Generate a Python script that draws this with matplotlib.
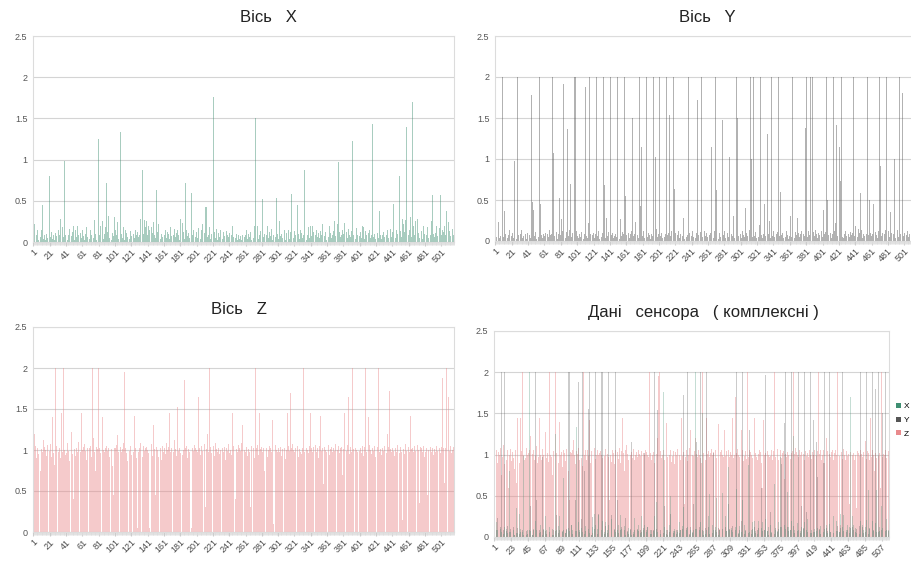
import numpy as np
import matplotlib
matplotlib.use("Agg")
import matplotlib.pyplot as plt
from matplotlib.patches import Patch

plt.rcParams['font.family'] = ['Liberation Sans', 'DejaVu Sans']

# ---------------- data ----------------
axis_x = [
    0.12, 0.22, 0.05, 0.18, 0.08, 0.15, 0.03, 0.17, 0.1, 0.06, 0.14, 0.45, 0.04, 0.12, 0.08, 0.02, 0.1, 0.05, 0.15, 0.07,
    0.8, 0.06, 0.12, 0.04, 0.16, 0.09, 0.03, 0.11, 0.07, 0.35, 0.05, 0.14, 0.08, 0.28, 0.1, 0.04, 0.18, 0.06, 0.98, 0.09,
    0.05, 0.13, 0.02, 0.08, 0.16, 0.04, 2.0, 0.07, 0.12, 0.19, 0.03, 0.1, 0.15, 0.06, 0.2, 0.08, 0.04, 0.17, 0.11, 0.05,
    0.14, 0.07, 0.22, 0.03, 0.1, 0.18, 0.06, 0.25, 0.09, 0.04, 0.15, 0.08, 0.12, 0.56, 0.05, 0.27, 0.1, 0.03, 0.16, 0.07,
    1.25, 0.08, 0.2, 0.05, 0.13, 0.26, 0.04, 0.1, 0.18, 0.07, 0.72, 0.12, 0.31, 0.05, 0.09, 0.16, 0.03, 0.11, 0.07, 0.3,
    0.06, 0.14, 0.09, 0.24, 0.04, 0.12, 0.07, 1.33, 0.1, 0.05, 0.18, 0.08, 0.03, 0.15, 0.11, 0.06, 1.22, 0.09, 0.04, 0.13,
    0.07, 0.16, 0.03, 0.1, 0.05, 0.14, 0.08, 0.02, 0.12, 0.06, 0.09, 0.28, 0.15, 0.22, 0.87, 0.1, 0.27, 0.18, 0.12, 0.25,
    0.09, 0.2, 0.14, 0.58, 0.06, 0.18, 0.11, 0.24, 0.08, 0.15, 0.05, 0.63, 0.12, 0.22, 0.07, 0.13, 0.04, 0.1, 0.06, 0.09,
    1.62, 0.08, 0.15, 0.05, 0.12, 0.27, 0.1, 0.04, 0.18, 0.07, 0.13, 0.03, 0.09, 0.16, 0.06, 0.11, 0.05, 0.14, 0.08, 0.02,
    0.28, 0.1, 0.06, 0.23, 0.12, 0.04, 0.72, 0.09, 0.15, 0.07, 0.11, 0.05, 0.25, 0.13, 0.6, 0.08, 0.14, 0.03, 0.1, 0.06,
    0.12, 0.05, 0.17, 0.52, 0.09, 0.04, 0.14, 0.22, 0.07, 0.25, 0.11, 0.42, 0.43, 0.06, 0.13, 0.08, 0.18, 0.04, 0.1, 0.15,
    0.07, 1.76, 0.12, 0.05, 0.16, 0.09, 0.03, 0.11, 0.06, 0.14, 0.5, 0.08, 0.04, 0.12, 0.07, 0.1, 0.05, 0.13, 0.09, 0.06,
    0.11, 0.04, 0.18, 0.08, 0.2, 0.06, 0.13, 0.37, 0.05, 0.1, 0.03, 0.08, 0.12, 0.04, 0.07, 0.02, 0.09, 0.05, 0.11, 0.06,
    0.08, 0.14, 0.04, 2.0, 0.1, 0.06, 0.12, 0.03, 0.09, 0.18, 0.05, 0.2, 1.5, 0.07, 0.11, 0.19, 0.04, 0.08, 0.13, 0.05,
    0.25, 0.52, 0.06, 0.1, 0.04, 0.14, 0.08, 0.2, 0.05, 0.12, 0.47, 0.07, 0.16, 0.03, 0.09, 0.13, 0.28, 0.06, 0.54, 0.1,
    0.04, 0.12, 0.25, 0.07, 0.1, 0.05, 0.85, 0.08, 0.14, 0.03, 0.11, 0.06, 0.09, 0.15, 0.04, 0.12, 0.58, 0.07, 0.1, 0.05,
    0.13, 0.08, 0.3, 0.06, 0.45, 0.1, 0.04, 0.14, 0.07, 0.11, 0.05, 0.09, 0.87, 0.06, 0.12, 0.03, 0.08, 0.18, 0.05, 0.1,
    0.2, 0.07, 0.19, 0.12, 0.04, 0.2, 0.09, 0.15, 0.06, 0.11, 0.18, 0.05, 0.13, 0.08, 0.22, 0.04, 0.1, 0.07, 0.12, 0.03,
    0.09, 0.14, 0.06, 0.2, 0.11, 0.05, 0.64, 0.08, 0.13, 0.25, 0.07, 0.18, 0.1, 0.22, 0.97, 0.12, 0.06, 0.2, 0.09, 0.15,
    0.1, 0.23, 0.07, 0.55, 0.12, 0.05, 0.16, 0.09, 0.2, 0.06, 0.13, 1.22, 0.08, 0.25, 0.11, 0.04, 0.17, 0.09, 0.14, 0.44,
    0.07, 0.12, 0.05, 0.2, 0.1, 0.18, 0.04, 0.13, 0.08, 0.22, 0.06, 0.11, 0.15, 0.05, 0.09, 0.12, 1.43, 0.06, 0.1, 0.04,
    0.14, 0.07, 0.11, 0.05, 0.38, 0.09, 0.13, 0.04, 0.08, 0.12, 0.06, 0.1, 0.03, 0.09, 0.14, 0.05, 0.11, 0.07, 0.16, 0.06,
    0.12, 0.46, 0.08, 0.25, 0.05, 0.14, 0.1, 0.2, 0.07, 0.8, 0.13, 0.06, 0.28, 0.09, 0.22, 0.12, 0.27, 1.4, 0.1, 0.18,
    0.08, 0.15, 0.3, 0.06, 0.12, 1.7, 0.2, 0.09, 0.25, 0.14, 0.07, 0.28, 0.11, 0.05, 0.16, 0.09, 0.13, 0.04, 0.2, 0.1,
    0.06, 0.14, 0.09, 0.18, 0.05, 0.12, 0.21, 0.08, 0.26, 0.57, 0.1, 0.15, 0.06, 0.11, 0.19, 0.07, 0.13, 0.05, 0.17, 0.57,
    0.09, 0.14, 0.06, 0.12, 0.2, 0.08, 0.38, 0.11, 0.05, 0.24, 0.13, 0.07, 0.22, 0.1, 0.16, 0.08,
]

axis_y = [
    1.5, 0.05, 0.03, 0.08, 0.23, 0.04, 0.06, 0.15, 0.12, 2.0, 0.05, 0.36, 0.08, 2.0, 0.1, 0.04, 0.07, 0.13, 1.8, 0.67,
    0.06, 0.1, 0.04, 0.98, 0.08, 0.12, 0.03, 2.0, 0.07, 0.05, 0.11, 0.09, 0.14, 0.04, 0.06, 2.0, 0.62, 0.08, 0.03, 0.1,
    0.05, 0.12, 0.07, 0.04, 1.78, 0.47, 0.09, 0.38, 0.06, 0.11, 0.03, 0.08, 0.1, 0.05, 2.0, 0.45, 0.07, 0.12, 0.04, 0.09,
    0.06, 0.1, 0.03, 0.97, 0.08, 0.05, 0.14, 0.07, 0.04, 0.09, 2.0, 1.07, 0.06, 0.25, 0.05, 0.11, 0.03, 0.08, 0.52, 1.97,
    0.07, 0.27, 0.12, 1.92, 0.05, 0.09, 0.04, 0.11, 1.36, 0.06, 0.08, 0.13, 0.7, 0.05, 0.1, 0.04, 0.07, 2.0, 2.0, 0.12,
    0.06, 0.14, 0.04, 0.09, 0.05, 0.11, 0.45, 0.07, 0.03, 0.08, 1.88, 0.06, 0.12, 0.04, 0.22, 2.0, 0.09, 0.05, 0.8, 0.07,
    0.1, 0.04, 0.08, 1.55, 2.0, 0.06, 0.12, 0.03, 0.24, 0.07, 0.05, 0.1, 2.0, 0.68, 0.08, 0.04, 0.28, 0.06, 0.11, 0.05,
    2.0, 2.0, 0.07, 0.1, 0.04, 0.13, 0.06, 0.09, 0.05, 2.0, 1.28, 0.08, 0.03, 0.27, 0.06, 0.11, 0.04, 0.09, 2.0, 0.55,
    0.07, 0.45, 0.05, 0.1, 0.04, 0.08, 0.12, 2.0, 1.5, 0.06, 0.09, 0.23, 0.05, 0.11, 0.07, 0.04, 2.0, 0.43, 0.1, 1.15,
    0.06, 0.12, 0.04, 0.09, 1.68, 2.0, 0.05, 0.1, 0.07, 0.13, 0.03, 0.08, 0.06, 2.0, 0.7, 0.11, 1.02, 0.15, 0.05, 0.09,
    0.12, 2.0, 0.06, 0.1, 0.04, 0.08, 0.11, 0.05, 0.09, 2.0, 0.07, 0.35, 0.1, 1.54, 0.06, 0.12, 0.04, 0.08, 2.0, 0.63,
    0.1, 0.05, 0.38, 0.07, 0.12, 0.04, 0.09, 2.0, 0.5, 0.06, 0.28, 0.03, 0.08, 0.11, 0.05, 0.07, 2.0, 0.1, 0.04, 0.09,
    0.06, 0.12, 0.05, 0.08, 2.0, 0.04, 0.1, 1.72, 0.07, 0.03, 0.09, 0.11, 2.0, 0.05, 0.08, 0.04, 0.12, 0.06, 0.1, 0.05,
    0.4, 1.35, 0.07, 0.1, 1.15, 0.05, 0.09, 0.04, 0.12, 2.0, 0.62, 0.06, 0.08, 0.03, 0.1, 0.05, 0.11, 2.0, 1.48, 0.07,
    0.12, 0.04, 0.4, 0.08, 0.1, 0.05, 1.02, 0.07, 0.03, 0.09, 0.06, 0.3, 0.04, 0.11, 0.08, 2.0, 1.5, 0.06, 0.1, 0.05,
    0.09, 0.04, 0.12, 0.07, 2.0, 0.05, 0.4, 0.1, 0.06, 0.42, 0.08, 0.13, 2.0, 1.0, 0.05, 0.09, 2.0, 0.06, 0.11, 0.04,
    0.08, 0.12, 0.05, 0.19, 2.0, 0.07, 0.1, 0.04, 0.09, 0.45, 0.06, 0.11, 0.05, 1.3, 0.08, 0.24, 0.04, 0.1, 2.0, 0.06,
    0.12, 0.05, 0.09, 0.04, 0.08, 0.11, 2.0, 0.06, 0.82, 0.6, 0.07, 0.1, 0.04, 0.09, 1.97, 0.05, 0.12, 0.07, 0.03, 0.1,
    0.06, 0.3, 0.05, 2.0, 0.08, 0.32, 0.04, 0.11, 0.07, 0.28, 0.06, 0.1, 0.05, 0.09, 0.12, 0.88, 0.04, 0.08, 0.06, 1.38,
    2.0, 0.1, 0.05, 0.12, 0.07, 2.0, 0.04, 0.09, 2.0, 0.11, 0.06, 0.13, 0.05, 0.08, 0.04, 0.1, 0.07, 2.0, 0.06, 0.12,
    0.05, 0.38, 0.09, 0.04, 0.11, 2.0, 0.5, 0.07, 0.3, 0.06, 0.1, 0.04, 0.08, 2.0, 0.05, 0.12, 0.22, 1.42, 0.06, 0.09,
    0.07, 1.15, 0.73, 2.0, 0.05, 0.1, 0.04, 0.08, 0.12, 0.06, 0.9, 2.0, 0.09, 0.05, 0.11, 0.07, 0.04, 0.1, 2.0, 0.06,
    0.18, 0.08, 0.12, 0.05, 0.15, 0.1, 0.58, 0.07, 0.13, 0.04, 0.09, 0.06, 0.11, 0.05, 0.08, 2.0, 0.07, 0.5, 0.04, 0.1,
    0.06, 0.09, 0.45, 1.15, 0.05, 0.11, 0.07, 0.04, 0.12, 0.08, 2.0, 0.92, 0.06, 0.1, 0.05, 0.65, 0.09, 0.13, 2.0, 1.17,
    0.07, 0.12, 0.05, 0.35, 0.1, 0.06, 2.0, 0.09, 1.0, 0.04, 0.11, 0.07, 0.13, 0.05, 2.0, 0.08, 0.95, 0.12, 1.8, 0.06,
    0.1, 0.15, 2.0, 0.07, 0.12, 0.05, 0.09, 1.5, 0.06, 0.11, 0.04, 2.0, 0.08, 0.1, 0.05, 0.07,
]

axis_z = [
    1.02, 1.2, 0.98, 1.05, 0.9, 1.03, 0.95, 1.0, 1.08, 0.75, 1.01, 0.97, 1.12, 0.88, 1.04, 1.0, 0.93, 1.06, 0.6, 1.02,
    0.99, 1.07, 0.92, 1.4, 1.03, 0.96, 0.82, 2.0, 1.05, 0.65, 1.45, 0.98, 1.02, 0.9, 1.45, 1.04, 0.97, 2.0, 1.0, 0.94,
    1.03, 0.96, 1.08, 0.99, 0.87, 1.02, 1.05, 1.22, 0.95, 0.4, 1.01, 1.06, 0.93, 1.03, 0.98, 1.1, 0.9, 1.02, 0.97, 1.45,
    1.0, 1.04, 0.94, 1.07, 0.99, 0.88, 1.03, 1.27, 0.96, 1.02, 1.05, 0.91, 2.0, 1.0, 1.15, 0.97, 0.75, 1.04, 0.93, 1.01,
    2.0, 1.02, 0.96, 1.06, 0.9, 1.4, 1.0, 0.98, 1.03, 0.85, 1.05, 0.99, 1.02, 0.92, 1.07, 0.97, 1.01, 0.8, 0.45, 1.03,
    0.95, 1.02, 1.06, 1.18, 0.98, 1.0, 0.89, 1.04, 0.97, 1.01, 1.08, 0.93, 1.95, 1.02, 0.96, 0.86, 2.0, 1.03, 0.99, 1.05,
    0.94, 1.01, 1.06, 0.98, 1.42, 1.02, 0.9, 1.04, 0.05, 0.97, 1.03, 1.08, 0.95, 1.0, 0.92, 1.05, 0.99, 1.02, 0.87, 1.04,
    1.0, 0.96, 0.05, 1.03, 0.98, 1.07, 0.93, 1.3, 1.01, 0.97, 0.45, 1.04, 1.0, 0.91, 1.06, 0.99, 1.02, 0.88, 1.05, 0.97,
    2.0, 1.03, 0.95, 1.08, 1.0, 0.9, 1.04, 1.45, 0.98, 1.02, 0.8, 1.06, 0.97, 1.12, 1.01, 0.93, 1.05, 1.53, 0.99, 1.03,
    0.96, 1.02, 1.07, 0.94, 1.0, 1.85, 1.03, 0.97, 1.05, 0.9, 1.01, 0.98, 1.04, 0.92, 0.05, 1.02, 0.99, 1.06, 0.95, 1.03,
    1.0, 0.97, 1.65, 2.0, 1.02, 0.94, 1.05, 0.99, 1.03, 0.9, 1.07, 0.3, 1.01, 1.2, 1.95, 0.98, 2.0, 1.04, 0.96, 1.02,
    0.99, 1.05, 0.93, 1.08, 1.01, 1.38, 0.97, 1.03, 0.95, 1.0, 1.06, 0.91, 1.02, 0.98, 1.04, 0.88, 0.45, 1.03, 0.99, 1.07,
    0.96, 1.02, 1.0, 0.94, 1.45, 1.05, 0.98, 1.03, 0.4, 1.01, 0.97, 1.06, 0.92, 1.02, 0.99, 1.08, 1.3, 0.95, 1.03, 1.0,
    0.98, 1.04, 0.93, 1.2, 1.01, 0.97, 0.3, 1.05, 1.0, 0.96, 1.03, 0.9, 2.0, 1.02, 0.98, 1.06, 0.94, 1.45, 1.01, 0.99,
    1.04, 0.97, 1.02, 0.75, 1.07, 0.99, 1.03, 0.92, 1.0, 1.05, 0.96, 1.02, 0.98, 1.37, 0.1, 1.03, 0.95, 1.06, 1.0, 0.97,
    1.02, 1.3, 0.98, 1.04, 0.93, 1.01, 1.06, 0.97, 1.03, 0.89, 1.0, 1.45, 0.96, 1.05, 0.99, 1.7, 1.02, 0.94, 1.07, 1.0,
    0.97, 1.03, 0.99, 1.3, 1.05, 0.92, 1.01, 0.98, 1.04, 0.95, 1.02, 2.0, 0.97, 1.06, 0.8, 1.03, 1.0, 0.96, 1.05, 0.99,
    1.45, 1.02, 0.97, 1.04, 0.93, 1.01, 1.06, 0.98, 1.03, 0.9, 0.6, 1.05, 1.42, 0.99, 1.02, 0.96, 0.58, 1.04, 1.0, 0.97,
    1.03, 0.98, 1.06, 0.94, 1.01, 1.04, 2.0, 0.97, 1.02, 0.99, 1.07, 0.93, 1.45, 1.0, 1.05, 0.96, 1.02, 0.98, 1.04, 0.7,
    1.01, 1.45, 0.97, 1.03, 0.99, 1.06, 1.65, 0.95, 1.02, 1.04, 0.98, 2.0, 1.01, 1.08, 0.94, 1.03, 1.0, 0.97, 1.72, 1.05,
    0.99, 1.03, 0.96, 1.05, 1.01, 0.93, 1.04, 2.0, 0.98, 1.02, 0.97, 1.4, 1.06, 1.0, 0.95, 2.0, 1.03, 0.99, 1.05, 0.92,
    1.02, 0.98, 1.04, 2.0, 0.97, 1.01, 1.06, 0.94, 1.03, 0.99, 1.05, 0.9, 1.02, 0.96, 1.2, 1.04, 1.72, 0.98, 1.01, 0.97,
    1.03, 0.99, 1.05, 0.93, 1.02, 0.97, 1.06, 1.0, 2.0, 0.96, 1.04, 0.98, 0.15, 1.03, 1.01, 0.95, 1.07, 0.99, 1.02, 0.94,
    1.04, 0.98, 1.42, 1.01, 0.4, 1.03, 0.97, 1.05, 0.99, 1.02, 0.93, 1.06, 1.0, 0.35, 1.04, 0.96, 1.02, 0.98, 1.05, 0.92,
    1.01, 0.97, 1.03, 0.45, 1.0, 1.17, 0.95, 1.04, 0.98, 1.02, 0.94, 1.45, 1.01, 0.97, 1.05, 0.99, 1.03, 0.8, 1.02, 0.96,
    1.04, 1.88, 0.98, 1.02, 0.6, 1.03, 2.0, 0.97, 1.01, 1.65, 0.99, 1.05, 0.96, 1.02, 1.0, 1.04,
]

titles = ['Вісь   X', 'Вісь   Y', 'Вісь   Z', 'Дані   сенсора   ( комплексні )']
legend_labels = ['X', 'Y', 'Z']
y_ticks = [0, 0.5, 1, 1.5, 2, 2.5]

# ---------------- style ----------------
C_X = '#3f8f72'
C_Y = '#555555'
C_Z = '#e98a8c'
GRID = '#d4d4d4'
TXT = '#555555'

W, H = 912, 562
fig = plt.figure(figsize=(W / 100, H / 100), dpi=100)


def ax_at(l, t, r, b):
    return fig.add_axes([l / W, 1 - b / H, (r - l) / W, (b - t) / H])


cats = np.arange(1, len(axis_x) + 1)


def style(ax, step):
    ax.set_ylim(0, 2.5)
    ax.set_yticks(y_ticks)
    ax.set_yticklabels([f'{v:g}' for v in y_ticks])
    ax.set_xlim(0.5, len(cats) + 0.5)
    pos = cats[::step]
    ax.set_xticks(pos)
    ax.set_xticklabels([str(p) for p in pos], rotation=45, ha='right',
                       rotation_mode='anchor')
    ax.set_xticks(cats, minor=True)
    ax.tick_params(axis='x', which='major', length=3, color='#cccccc',
                   labelsize=6.5, labelcolor='#4a4a4a', pad=1)
    ax.tick_params(axis='x', which='minor', length=2, color='#dddddd')
    ax.tick_params(axis='y', length=0, labelsize=6.5, labelcolor=TXT, pad=4)
    ax.grid(axis='y', color=GRID, linewidth=0.8)
    ax.set_axisbelow(True)
    for s in ax.spines.values():
        s.set_color('#dcdcdc')
        s.set_linewidth(0.8)


ax1 = ax_at(33, 36, 454, 242)
ax1.bar(cats, axis_x, width=0.85, color=C_X, alpha=0.45, linewidth=0)
style(ax1, 20)

ax2 = ax_at(495, 36, 917, 241)
ax2.bar(cats, axis_y, width=0.85, color=C_Y, alpha=0.45, linewidth=0)
style(ax2, 20)

ax3 = ax_at(33, 327, 454, 532)
ax3.bar(cats, axis_z, width=0.9, color=C_Z, alpha=0.45, linewidth=0)
style(ax3, 20)

ax4 = ax_at(494, 331, 889, 537)
ax4.bar(cats, axis_z, width=0.9, color=C_Z, alpha=0.45, linewidth=0)
ax4.bar(cats, axis_y, width=0.6, color=C_Y, alpha=0.3, linewidth=0)
ax4.bar(cats, axis_x, width=0.6, color=C_X, alpha=0.3, linewidth=0)
style(ax4, 22)

title_pos = [(268, 18), (707, 18), (239, 310), (703, 312)]
for t, (px, py) in zip(titles, title_pos):
    fig.text(px / W, 1 - py / H, t, ha='center', va='center',
             fontsize=12, color='#222222')

handles = [Patch(facecolor=c, edgecolor='none') for c in (C_X, C_Y, C_Z)]
fig.legend(handles, legend_labels, loc='upper left',
           bbox_to_anchor=(896 / W, 1 - 403 / H), frameon=False,
           handlelength=0.55, handleheight=0.55, handletextpad=0.35,
           labelspacing=0.75, fontsize=6, borderaxespad=0, borderpad=0)

fig.savefig('out.png', dpi=100)
